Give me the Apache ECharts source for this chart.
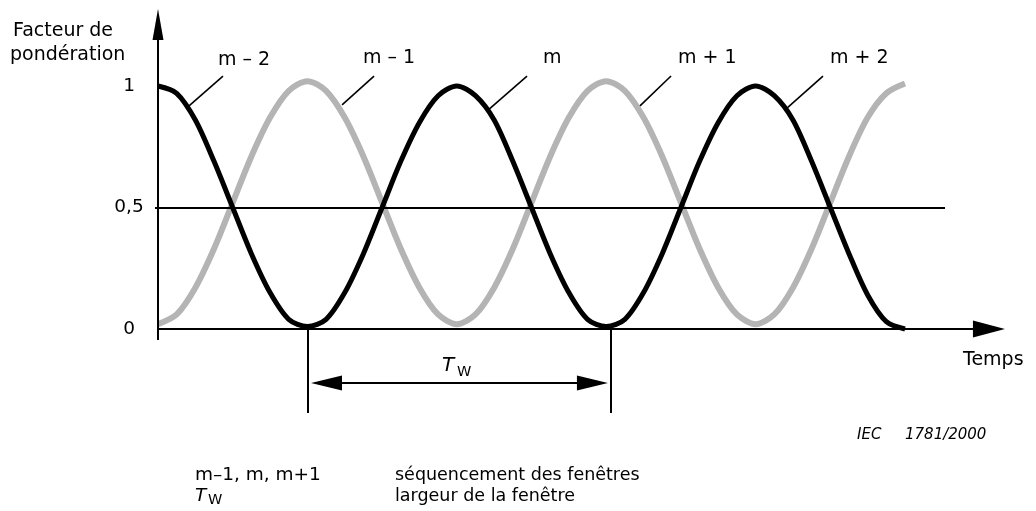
<!DOCTYPE html>
<html>
<head>
<meta charset="utf-8">
<script src="https://cdn.jsdelivr.net/npm/echarts@6/dist/echarts.min.js"></script>
<style>
  html, body { margin: 0; padding: 0; background: #fff; }
  #chart { width: 1036px; height: 511px; }
</style>
</head>
<body>
<div id="chart"></div>
<script>
// time in window half-widths
const timeSteps = [
  0, 0.125, 0.25, 0.375, 0.5, 0.625, 0.75, 0.875,
  1, 1.125, 1.25, 1.375, 1.5, 1.625, 1.75, 1.875,
  2, 2.125, 2.25, 2.375, 2.5, 2.625, 2.75, 2.875,
  3, 3.125, 3.25, 3.375, 3.5, 3.625, 3.75, 3.875,
  4, 4.125, 4.25, 4.375, 4.5, 4.625, 4.75, 4.875, 5
];
const windowsEven = [
  1, 0.97, 0.86, 0.69, 0.5, 0.31, 0.15, 0.04,
  0.01, 0.04, 0.15, 0.31, 0.5, 0.69, 0.85, 0.96,
  1, 0.96, 0.86, 0.69, 0.5, 0.31, 0.15, 0.04,
  0.01, 0.04, 0.15, 0.31, 0.5, 0.69, 0.85, 0.96,
  1, 0.96, 0.86, 0.69, 0.5, 0.31, 0.14, 0.03, 0
];
const windowsOdd = [
  0.02, 0.06, 0.17, 0.33, 0.52, 0.71, 0.87, 0.98,
  1.02, 0.98, 0.87, 0.71, 0.52, 0.33, 0.17, 0.06,
  0.02, 0.06, 0.17, 0.33, 0.52, 0.71, 0.87, 0.98,
  1.02, 0.98, 0.87, 0.71, 0.52, 0.33, 0.17, 0.06,
  0.02, 0.06, 0.17, 0.33, 0.52, 0.71, 0.87, 0.97, 1.01
];
const yTickValues = [0, 0.5, 1];
const yTickLabels = ['0', '0,5', '1'];
const windowNames = ['m – 2', 'm – 1', 'm', 'm + 1', 'm + 2'];
// leader lines from each curve to its name [x0, y0, x1, y1]
const leaders = [
  [0.2, 0.914, 0.435, 1.041],
  [1.232, 0.922, 1.446, 1.041],
  [2.209, 0.901, 2.47, 1.041],
  [3.226, 0.918, 3.434, 1.041],
  [4.21, 0.909, 4.451, 1.041]
];
const nameSpots = [[218, 60], [363, 58], [543, 58], [678, 58], [830, 58]];
// window width marker: from t=1 to t=3
const twStart = 1;
const twEnd = 3.03;

const FONT = 'DejaVu Sans';
const chart = echarts.init(document.getElementById('chart'));

const pairs = (vals) => timeSteps.map((t, i) => [t, vals[i]]);

const seg = (a, b, startSym, endSym) => [
  Object.assign({ coord: a, symbol: 'none' }, startSym || {}),
  Object.assign({ coord: b, symbol: 'none' }, endSym || {})
];

const text = (str, x, y, opts) => ({
  type: 'text',
  x: x,
  y: y,
  silent: true,
  style: Object.assign({
    text: str,
    fill: '#000',
    fontSize: 19,
    fontFamily: FONT,
    align: 'left',
    verticalAlign: 'middle'
  }, opts || {})
});

const option = {
  animation: false,
  grid: { left: 143.06, right: 26.42, top: 0.95, bottom: 60.5 },
  xAxis: {
    type: 'value',
    min: -0.1,
    max: 5.7,
    axisLine: { show: false },
    axisTick: { show: false },
    axisLabel: { show: false },
    splitLine: { show: false }
  },
  yAxis: {
    type: 'value',
    min: -0.5,
    max: 1.35,
    interval: 0.5,
    axisLine: { show: false },
    axisTick: { show: false },
    splitLine: { show: false },
    axisLabel: {
      margin: 14,
      align: 'center',
      color: '#000',
      fontSize: 18.5,
      fontFamily: FONT,
      formatter: (v) => {
        const i = yTickValues.indexOf(Math.round(v * 100) / 100);
        return i < 0 ? '' : yTickLabels[i];
      }
    }
  },
  series: [
    {
      name: 'annotations',
      type: 'line',
      data: [],
      clip: false,
      silent: true,
      z: 1,
      markLine: {
        silent: true,
        animation: false,
        label: { show: false },
        emphasis: { disabled: true },
        symbol: ['none', 'none'],
        lineStyle: { color: '#000', width: 2, type: 'solid' },
        data: [
          // y axis with arrow
          seg([0, -0.045], [0, 1.253], null, { symbol: 'triangle', symbolSize: [11, 31] }),
          // time axis with arrow
          seg([0, 0], [5.562, 0], null, { symbol: 'triangle', symbolSize: [17, 32] }),
          // 0,5 level
          seg([-0.02, 0.5], [5.268, 0.5]),
          // Tw verticals
          seg([twStart, 0], [twStart, -0.346]),
          seg([twEnd, 0], [twEnd, -0.346]),
          // Tw double arrow
          seg([1.128, -0.222], [2.908, -0.222],
            { symbol: 'triangle', symbolSize: [15, 31] },
            { symbol: 'triangle', symbolSize: [15, 31] })
        ].concat(leaders.map((l) => {
          const s = seg([l[0], l[1]], [l[2], l[3]]);
          s[0].lineStyle = { width: 1.6 };
          return s;
        }))
      }
    },
    {
      name: 'odd windows',
      type: 'line',
      data: pairs(windowsOdd),
      smooth: 0.3,
      showSymbol: false,
      silent: true,
      z: 2,
      lineStyle: { color: '#b4b4b4', width: 6 }
    },
    {
      name: 'even windows',
      type: 'line',
      data: pairs(windowsEven),
      smooth: 0.3,
      showSymbol: false,
      silent: true,
      z: 3,
      lineStyle: { color: '#000', width: 5 }
    }
  ],
  graphic: [
    text('Facteur de', 13, 31),
    text('pondération', 10, 55),
    text('Temps', 963, 360),
    text('T', 442, 366, { fontStyle: 'italic', fontSize: 20 }),
    text('W', 457, 372, { fontSize: 14.5 }),
    text('IEC', 857, 435, { fontStyle: 'italic', fontSize: 15 }),
    text('1781/2000', 905, 435, { fontStyle: 'italic', fontSize: 15 }),
    text('m–1, m, m+1', 195, 475, { fontSize: 18.5 }),
    text('T', 195, 496, { fontStyle: 'italic', fontSize: 18.5 }),
    text('W', 208, 500, { fontSize: 14.5 }),
    text('séquencement des fenêtres', 395, 475, { fontSize: 17.5 }),
    text('largeur de la fenêtre', 395, 496, { fontSize: 17.5 })
  ].concat(windowNames.map((n, i) => text(n, nameSpots[i][0], nameSpots[i][1])))
};

chart.setOption(option);
</script>
</body>
</html>
